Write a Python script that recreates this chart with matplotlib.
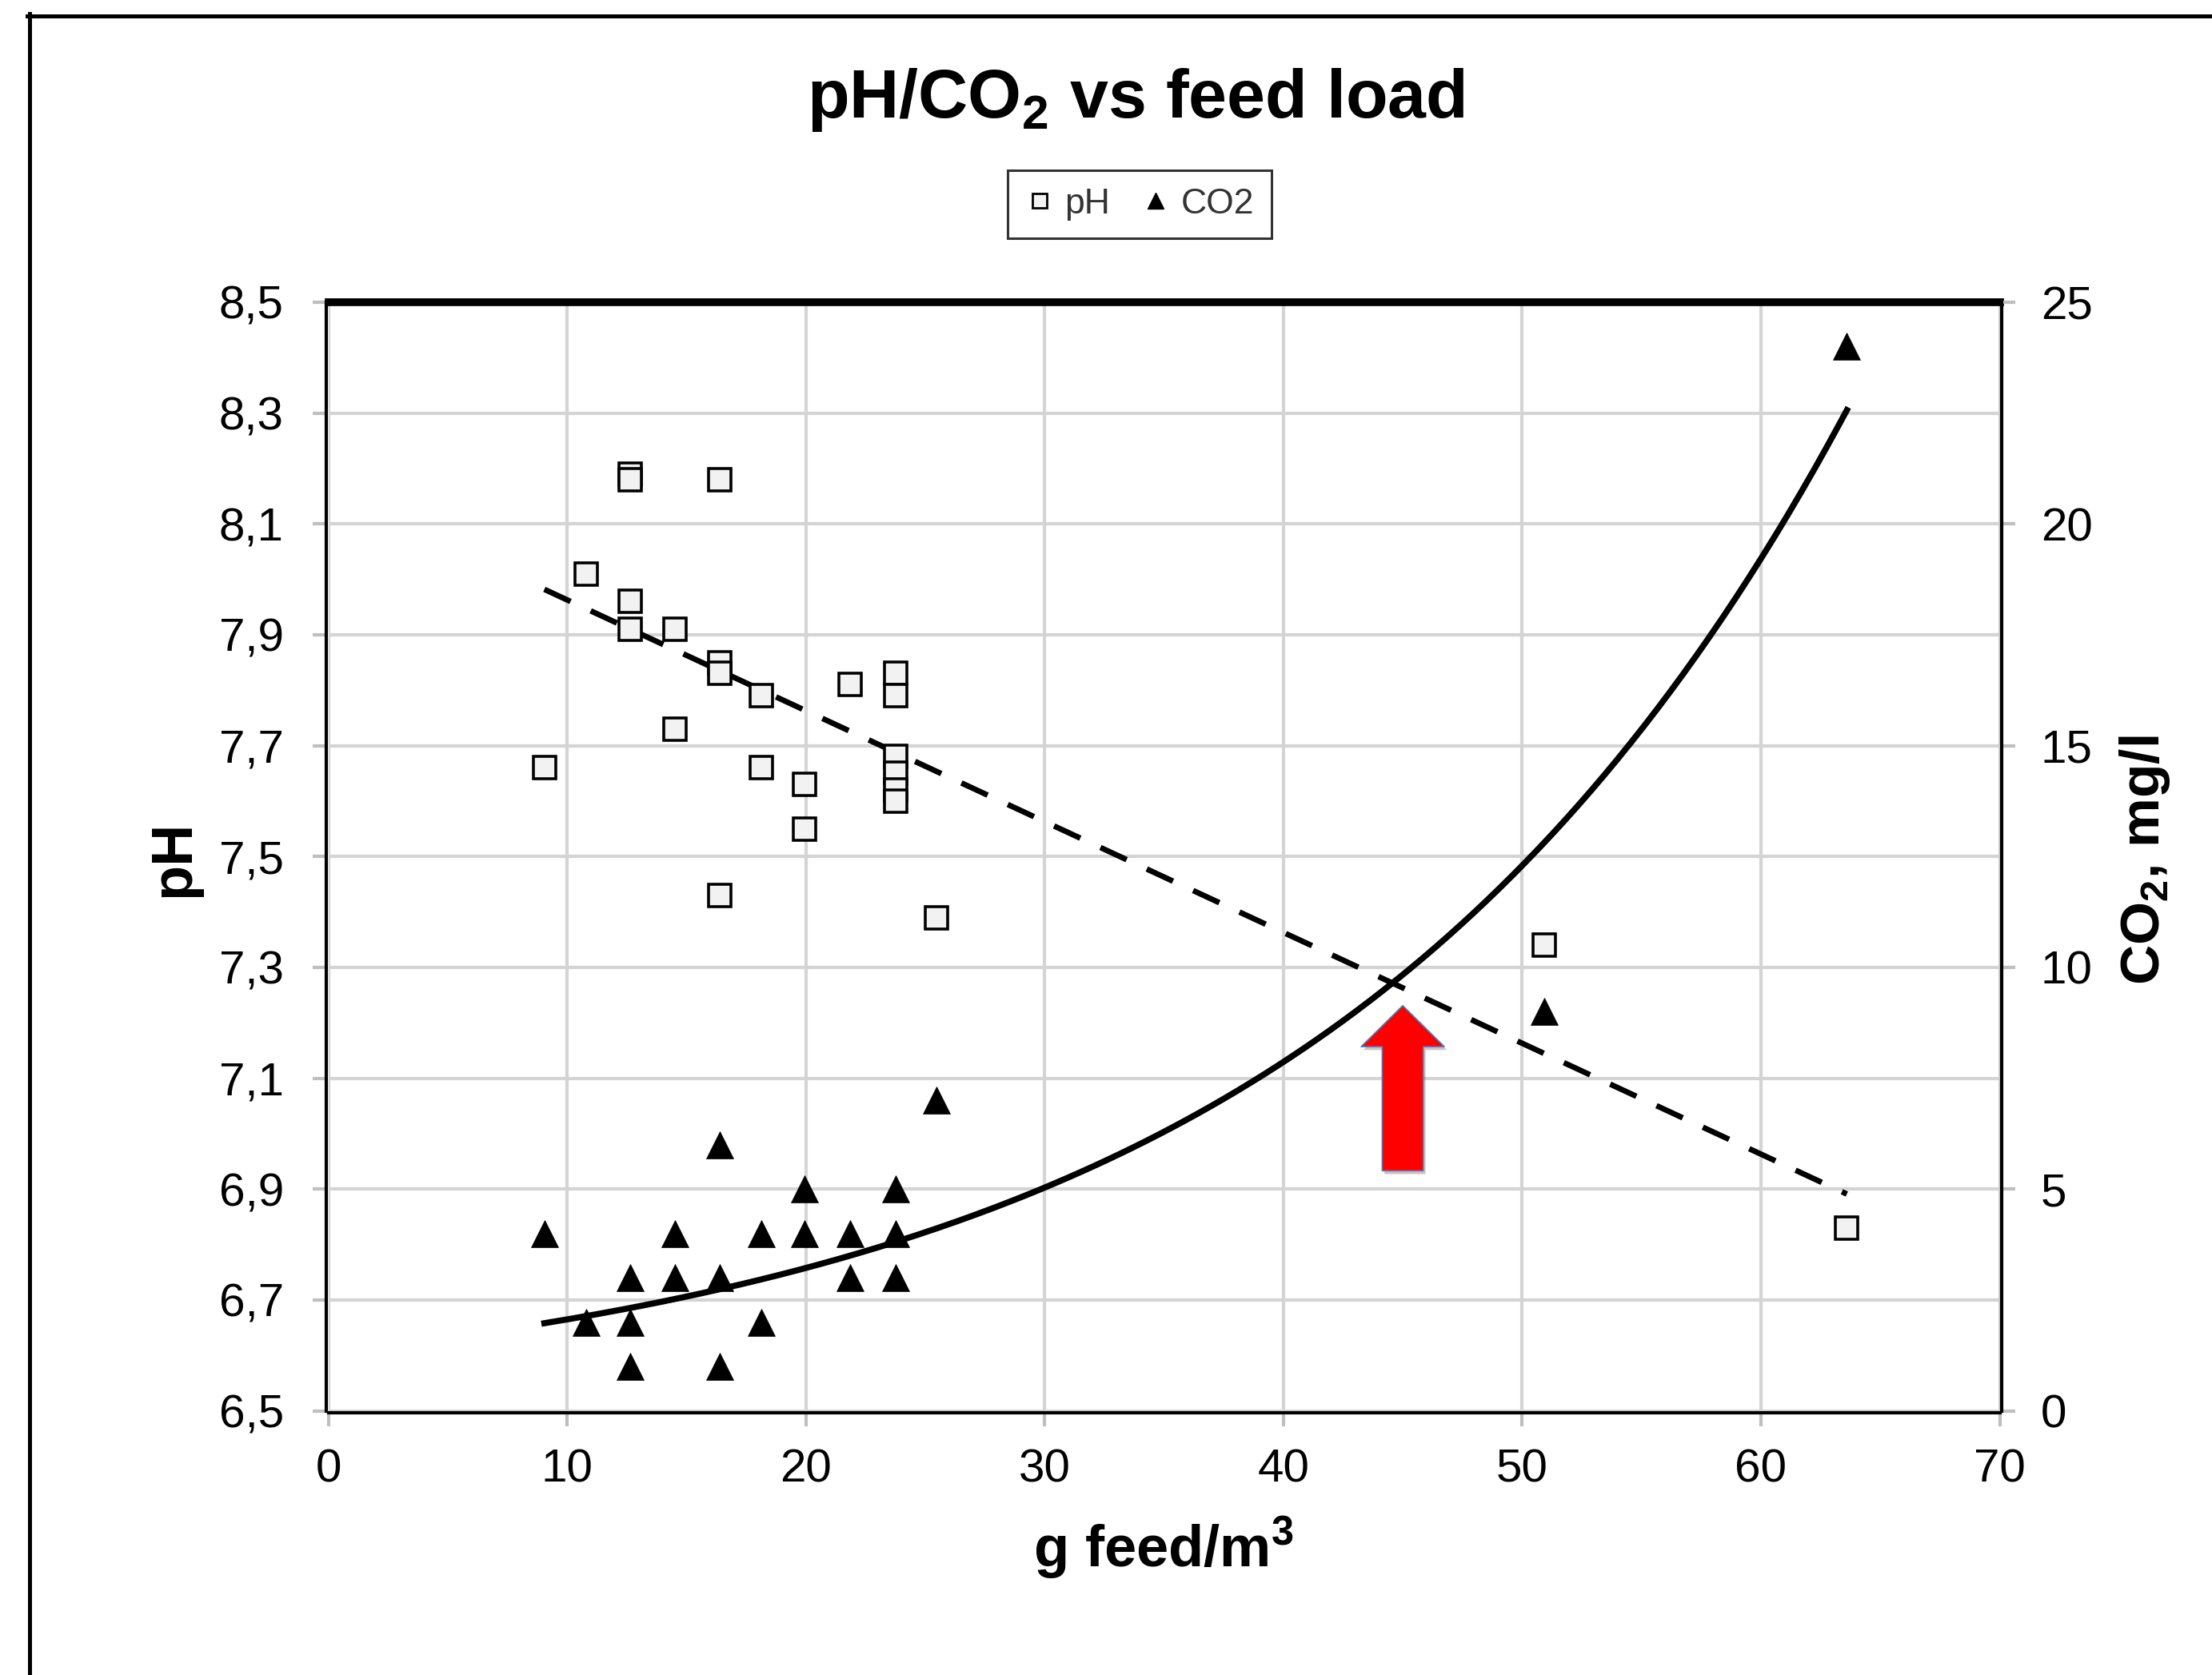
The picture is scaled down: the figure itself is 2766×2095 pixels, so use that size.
import matplotlib
matplotlib.use("Agg")
import numpy as np
import matplotlib.pyplot as plt
import matplotlib.patheffects as pe
from matplotlib.lines import Line2D
from matplotlib.patches import FancyArrowPatch, ArrowStyle
from matplotlib.ticker import FuncFormatter

plt.rcParams['font.family'] = ['Liberation Sans', 'DejaVu Sans']
plt.rcParams['mathtext.fontset'] = 'custom'
plt.rcParams['mathtext.rm'] = 'Liberation Sans'
plt.rcParams['mathtext.bf'] = 'Liberation Sans:bold'

# pH readings (left axis)
ph_x = [9.05, 10.8, 12.64, 12.64, 12.64, 12.64, 14.52, 14.52, 16.41, 16.41, 16.41, 16.41,
        18.12, 18.12, 19.96, 19.96, 21.86, 23.75, 23.75, 23.75, 23.75, 23.75, 23.75,
        25.46, 50.94, 63.6]
ph = [7.66, 8.01, 8.19, 8.18, 7.96, 7.91, 7.91, 7.73, 8.18, 7.85, 7.83, 7.43,
      7.79, 7.66, 7.63, 7.55, 7.81, 7.83, 7.79, 7.68, 7.65, 7.62, 7.60,
      7.39, 7.34, 6.83]

# CO2 readings (right axis, mg/l)
co2_x = [9.05, 10.8, 12.64, 12.64, 12.64, 14.52, 14.52, 16.41, 16.41, 16.41, 18.12, 18.12,
         19.96, 19.96, 21.86, 21.86, 23.75, 23.75, 23.75, 25.46, 50.94, 63.6]
co2 = [4, 2, 3, 2, 1, 4, 3, 6, 3, 1, 4, 2,
       5, 4, 4, 3, 5, 4, 3, 7, 9, 24]

# trendlines
trend_x_range = (9.05, 63.6)
ph_trend_slope, ph_trend_intercept = -0.0200, 8.163      # linear
co2_trend_a, co2_trend_b = 1.318, 0.04466                # exponential

# red arrow (x, pH from -> to)
arrow_x = 45.0
arrow_ph = (6.933, 7.231)

x_ticks = list(range(0, 71, 10))
ph_ticks = [6.5, 6.7, 6.9, 7.1, 7.3, 7.5, 7.7, 7.9, 8.1, 8.3, 8.5]
co2_ticks = [0, 5, 10, 15, 20, 25]

W, H = 2766, 2095
fig = plt.figure(figsize=(W / 100, H / 100), dpi=100)
ax = fig.add_axes([410.5 / W, 1 - 1764.5 / H, (2500.5 - 410.5) / W, (1764.5 - 378) / H])
ax2 = ax.twinx()

grid_col = '#d4d4d4'
tick_col = '#bfbfbf'

ax.set_xlim(0, 70)
ax.set_ylim(6.5, 8.5)
ax.set_xticks(x_ticks)
ax.set_yticks(ph_ticks)
ax.yaxis.set_major_formatter(FuncFormatter(lambda v, p: f"{v:.1f}".replace('.', ',')))
ax.grid(True, color=grid_col, lw=3)
ax.set_axisbelow(True)
ax.tick_params(axis='both', direction='out', length=12, width=3, color=tick_col, labelsize=42)
ax.tick_params(axis='y', pad=26)
ax.tick_params(axis='x', pad=20)

ax2.set_ylim(0, 25)
ax2.set_yticks(co2_ticks)
ax2.tick_params(axis='y', direction='out', length=12, width=3, color=tick_col, labelsize=42, pad=23)

for s in ['left', 'bottom']:
    ax.spines[s].set_position(('outward', 2))
    ax.spines[s].set_linewidth(3)
    ax.spines[s].set_color('black')
ax.spines['right'].set_visible(False)
ax.spines['top'].set_linewidth(7)
ax.spines['top'].set_color('black')
for s in ['left', 'bottom', 'top']:
    ax2.spines[s].set_visible(False)
ax2.spines['right'].set_position(('outward', 2))
ax2.spines['right'].set_linewidth(3)
ax2.spines['right'].set_color('black')

# trendlines
tx = np.linspace(trend_x_range[0], trend_x_range[1], 200)
ax.plot(tx, ph_trend_intercept + ph_trend_slope * tx, color='black', lw=5,
        linestyle=(0, (5.2, 4.0)), zorder=2)
ax2.plot(tx, co2_trend_a * np.exp(co2_trend_b * tx), color='black', lw=5.5, zorder=2)

# data points
ax.plot(ph_x, ph, linestyle='none', marker='s', ms=20, mew=2.6,
        mfc='#f2f2f2', mec='black', zorder=3)
ax2.plot(co2_x, co2, linestyle='none', marker='^', ms=24, mew=0.5,
         mfc='black', mec='black', zorder=3)

# red arrow
arrow = FancyArrowPatch((arrow_x, arrow_ph[0]), (arrow_x, arrow_ph[1]),
                        arrowstyle=ArrowStyle.Simple(head_length=37, head_width=75, tail_width=37),
                        mutation_scale=1, facecolor='#ff0000', edgecolor='#4f81bd', lw=1.2,
                        shrinkA=0, shrinkB=0, zorder=6,
                        path_effects=[pe.SimplePatchShadow(offset=(2, -3), alpha=0.25), pe.Normal()])
ax.add_patch(arrow)

# titles and axis labels
fig.text(1420 / W, 1 - 147 / H, r'pH/CO$_\mathbf{2}$ vs feed load', ha='center', va='baseline',
         fontsize=62, fontweight='bold')
fig.text(217 / W, 1 - 1074 / H, 'pH', rotation=90, ha='center', va='center',
         fontsize=52, fontweight='bold')
fig.text(2682 / W, 1 - 1076 / H, r'CO$_\mathbf{2}$, mg/l', rotation=90, ha='center', va='center',
         fontsize=50, fontweight='bold')
fig.text(1455 / W, 1 - 1960 / H, r'g feed/m$^\mathbf{3}$', ha='center', va='baseline',
         fontsize=52, fontweight='bold')

# legend
handles = [Line2D([], [], linestyle='none', marker='s', ms=13, mew=2, mfc='#f2f2f2', mec='black'),
           Line2D([], [], linestyle='none', marker='^', ms=15, mfc='black', mec='black')]
leg = fig.legend(handles, ['pH', 'CO2'], loc='center', bbox_to_anchor=(1425 / W, 1 - 255.5 / H),
                 ncol=2, frameon=True, fancybox=False, edgecolor='black', fontsize=32,
                 handlelength=0.8, handletextpad=0.3, columnspacing=0.9, borderpad=0.5)
leg.get_frame().set_linewidth(2.2)
for t in leg.get_texts():
    t.set_color('#333333')

# outer border (left and top edges are visible)
fig.add_artist(Line2D([36.5 / W, 36.5 / W], [0, 1 - 17 / H], transform=fig.transFigure,
                      color='black', lw=3.6))
fig.add_artist(Line2D([34 / W, 1], [1 - 19.5 / H, 1 - 19.5 / H], transform=fig.transFigure,
                      color='black', lw=3.6))

fig.savefig('out.png', dpi=100, facecolor='white')
